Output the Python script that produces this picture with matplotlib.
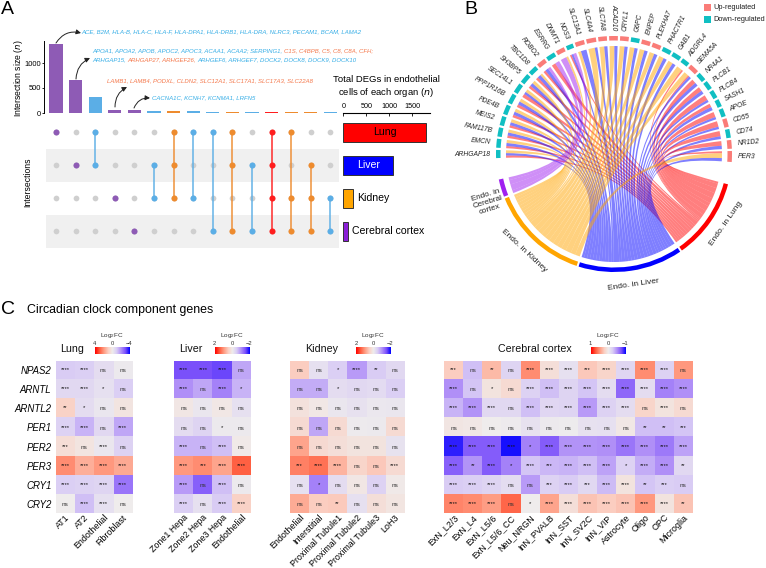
import numpy as np
import matplotlib
matplotlib.use("Agg")
import matplotlib.pyplot as plt
from matplotlib.colors import LinearSegmentedColormap
from matplotlib.patches import PathPatch, Rectangle, Wedge
from matplotlib.path import Path
from matplotlib.transforms import ScaledTranslation

plt.rcParams["font.family"] = ["Liberation Sans", "DejaVu Sans"]
plt.rcParams["mathtext.default"] = "regular"

W, H = 766, 568
PURPLE, BLUE, ORANGE, RED = "#8E5BB5", "#5BAEE6", "#EE8B2E", "#FF1E1E"

# ---- panel A data
intersection_sizes = [1380, 660, 330, 65, 65, 45, 40, 38, 25, 25, 22, 22, 20, 18, 15]
intersection_colors = [PURPLE, PURPLE, BLUE, PURPLE, PURPLE, BLUE, ORANGE, BLUE,
                       BLUE, ORANGE, BLUE, RED, ORANGE, ORANGE, BLUE]
intersection_sets = [[0], [1], [0, 1], [2], [3], [1, 2], [0, 1, 2], [0, 2],
                     [0, 3], [0, 1, 3], [1, 3], [0, 1, 2, 3], [0, 2, 3], [1, 2, 3], [2, 3]]
organs = ["Lung", "Liver", "Kidney", "Cerebral cortex"]
organ_totals = [1795, 1087, 200, 95]
organ_bar_colors = ["#FF0000", "#0000FF", "#FFA500", "#8B1FD8"]

GB, GO = "#35ADE6", "#F4774A"
gene_notes = [
    (81, 32, [("ACE, B2M, HLA-B, HLA-C, HLA-F, HLA-DPA1, HLA-DRB1, HLA-DRA, NLRC3, PECAM1, BCAM, LAMA2", GB)]),
    (92, 51, [("APOA1, APOA2, APOB, APOC2, APOC3, ACAA1, ACAA2; SERPING1, ", GB), ("C1S, C4BPB, C5, C8, C8A, CFH;", GO)]),
    (92, 60, [("ARHGAP15, ", GB), ("ARHGAP27, ARHGEF26, ", GO), ("ARHGEF6, ARHGEF7, DOCK2, DOCK8, DOCK9, DOCK10", GB)]),
    (107, 81, [("LAMB1, LAMB4, PODXL, CLDN2, SLC12A1, SLC17A1, SLC17A3, SLC22A8", GO)]),
    (152, 98, [("CACNA1C, KCNH7, KCNMA1, LRFN5", GB)]),
]
note_arrows = [((56, 43), (81, 33), -0.35), ((76, 79), (90, 58), -0.3),
               ((115, 107), (127, 87), -0.3), ((134, 108), (150, 98), -0.35)]

# ---- panel B data: ribbons run clockwise inside each gene
gene_names = ["ARHGAP18", "EMCN", "FAM117B", "MEIS2", "PDE4B", "PPP1R16B", "SEC14L1", "SH3BP5", "TBC1D8",
              "ROBO2", "ESRRG", "DNMT1", "NOS3", "SLC13A1", "SLC4A4", "SLC7A8", "ACAD10", "CRYL1", "G6PC",
              "ENPEP", "PLEKHA7", "PHACTR1", "GAB1", "ADGRL4", "SEMA5A", "NR4A1", "PLCB1", "PLCB4", "SASH1",
              "APOE", "CD55", "CD74", "NR1D2", "PER3"]
gene_up = [0, 0, 0, 0, 0, 0, 0, 0, 0, 1, 0, 1, 0, 1, 1, 1, 1, 1, 0, 1, 1, 0, 0, 0, 1, 0, 0, 0, 0, 0, 1, 0, 1, 1]
gene_links = [
    [("lung", 1.1), ("liver", 1.2), ("kidney", 1.4)], [("lung", 1.1), ("liver", 1.5), ("kidney", 1.5)],
    [("lung", 1.2), ("liver", 1.5), ("kidney", 1.5)], [("lung", 1.2), ("liver", 1.5), ("kidney", 1.6)],
    [("lung", 1.3), ("liver", 1.6), ("kidney", 1.6)], [("lung", 1.4), ("liver", 1.6), ("kidney", 1.6)],
    [("lung", 1.7), ("liver", 1.3), ("kidney", 1.5)], [("lung", 1.3), ("liver", 1.6), ("kidney", 1.6)],
    [("lung", 1.3), ("liver", 1.7), ("kidney", 1.1)], [("lung", 1.2), ("liver", 1.6), ("cortex", 1.4)],
    [("lung", 2.0), ("cortex", 2.2)], [("cortex", 3.0), ("kidney", 1.0)],
    [("lung", 0.8), ("liver", 1.0), ("cortex", 1.5)], [("kidney", 1.5), ("liver", 2.8)],
    [("kidney", 3.2), ("liver", 1.3)], [("kidney", 2.4), ("liver", 1.6)], [("kidney", 2.4), ("liver", 1.6)],
    [("kidney", 2.4), ("liver", 1.6)], [("kidney", 2.4), ("liver", 1.6)], [("kidney", 2.4), ("liver", 1.7)],
    [("kidney", 2.4), ("liver", 1.7)], [("kidney", 2.4), ("liver", 1.7)], [("kidney", 2.4), ("liver", 1.7)],
    [("kidney", 2.8), ("lung", 0.8)], [("kidney", 2.4), ("lung", 0.7), ("liver", 1.2)],
    [("lung", 2.2), ("liver", 1.7)], [("lung", 2.2), ("liver", 1.7)], [("lung", 2.6), ("liver", 1.2)],
    [("lung", 1.8), ("liver", 1.7)], [("lung", 2.6), ("liver", 1.2)], [("lung", 2.8), ("liver", 1.2)],
    [("lung", 2.6), ("liver", 1.4)], [("lung", 2.3), ("liver", 1.7)], [("lung", 1.0), ("kidney", 2.4), ("liver", 1.6)],
]
chord_organs = ["lung", "liver", "kidney", "cortex"]
chord_ring = {"lung": "#FF0000", "liver": "#0000FF", "kidney": "#FFA500", "cortex": "#A020F0"}
CX, CY, R_OUT, R_IN, R_RIB = 614, 154, 118, 113.5, 108

# ---- panel C data: Log2FC per cell
genes = ["NPAS2", "ARNTL", "ARNTL2", "PER1", "PER2", "PER3", "CRY1", "CRY2"]

lung_cells = ["AT1", "AT2", "Endothelial", "Fibroblast"]
lung_fc = [[-1.0, -0.9, -0.5, -0.1], [-0.6, -0.6, -0.4, -0.9], [0.9, -0.5, -0.2, 0.3], [-0.8, -1.4, -0.6, -1.6],
           [0.5, 0.3, -0.2, -0.8], [2.2, 1.6, 2.0, 1.7], [-0.9, -0.8, -0.7, -2.4], [0.0, -1.2, -0.4, 0.0]]
lung_sig = [["****", "****", "ns", "ns"], ["****", "****", "*", "ns"], ["**", "*", "ns", "ns"], ["****", "****", "ns", "****"],
            ["***", "ns", "****", "ns"], ["****", "****", "****", "****"], ["****", "****", "****", "****"], ["ns", "****", "****", "ns"]]

liver_cells = ["Zone1 Hepa", "Zone2 Hepa", "Zone3 Hepa", "Endothelial"]
liver_fc = [[-1.5, -1.5, -1.56, -0.8], [-1.0, -0.8, -1.1, -0.7], [0.1, -0.1, 0.08, -0.2], [-0.24, -0.36, -0.06, -0.06],
            [-0.7, -0.7, -0.6, 0.06], [1.0, 1.1, 0.9, 1.44], [-0.9, -1.36, -0.6, -0.06], [-0.44, -0.2, -0.5, 0.44]]
liver_sig = [["****", "****", "****", "ns"], ["****", "ns", "****", "*"], ["ns", "ns", "ns", "ns"], ["ns", "ns", "*", "ns"],
             ["****", "ns", "****", "ns"], ["****", "***", "****", "****"], ["****", "ns", "****", "ns"], ["****", "ns", "****", "****"]]

kidney_cells = ["Endothelial", "Interstitial", "Proximal Tubule1", "Proximal Tubule2", "Proximal Tubule3", "LoH3"]
kidney_fc = [[0.5, -0.2, -0.44, -0.9, -0.5, -0.3], [-0.76, -0.76, -0.24, -0.3, -0.26, -0.44],
             [0.2, 0.08, -0.1, -0.18, -0.08, -0.1], [0.3, -0.8, 0.3, -0.04, -0.06, 0.3],
             [0.9, 0.32, 0.24, 0.16, 0.16, -0.16], [1.2, 1.3, 0.76, 0.4, 0.56, 0.3],
             [-0.2, -1.1, -0.24, 0.1, -0.4, 0.06], [0.84, 0.5, 0.54, -0.2, 0.24, 0.14]]
kidney_sig = [["ns", "ns", "*", "****", "**", "ns"], ["ns", "ns", "*", "ns", "ns", "ns"], ["ns"] * 6, ["ns"] * 6, ["ns"] * 6,
              ["***", "****", "****", "ns", "ns", "****"], ["ns", "*", "ns", "ns", "ns", "ns"], ["ns", "ns", "**", "ns", "ns", "ns"]]

cortex_cells = ["ExN_L2/3", "ExN_L4", "ExN_L5/6", "ExN_L5/6_CC", "Neu_NRGN", "InN_PVALB", "InN_SST", "InN_SV2C",
                "InN_VIP", "Astrocyte", "Oligo", "OPC", "Microglia"]
cortex_fc = [[.25, -.3, .35, -.18, .55, .12, -.1, .28, .2, -.17, .55, -.2, .5],
             [-.5, -.28, .08, .15, -.2, -.3, -.18, -.28, -.12, -.65, -.12, -.55, -.5],
             [-.35, -.48, -.15, -.15, -.3, -.17, -.18, -.45, -.2, -.12, .2, .08, .15],
             [.06, .04, .0, -.02, -.09, -.03, -.01, -.09, -.1, .04, -.3, -.3, -.28],
             [-.9, -.7, -.7, -.95, -.55, -.7, -.48, -.48, -.5, -.6, -.5, -.58, -.42],
             [-.68, -.48, -.7, -.55, -.28, -.33, -.35, -.3, -.42, -.2, -.38, -.5, -.15],
             [-.25, -.22, -.18, -.12, -.45, -.2, -.25, -.15, -.32, .08, -.28, -.22, -.25],
             [.58, .55, .48, .7, .0, .45, .12, .3, .25, .3, .5, .08, .3]]
S4 = "****"
cortex_sig = [["***", "ns", "**", "ns", S4, S4, S4, "***", S4, S4, S4, S4, "ns"],
              [S4, "ns", "*", "ns", S4, S4, S4, S4, S4, S4, S4, S4, S4],
              [S4, S4, S4, "ns", S4, S4, S4, S4, S4, S4, "ns", S4, "ns"],
              ["ns"] * 10 + ["**", "**", "***"],
              [S4, S4, S4, S4, "*", S4, S4, S4, S4, S4, S4, S4, S4],
              [S4, "**", S4, "*", S4, "***", S4, S4, S4, "*", S4, S4, "**"],
              [S4, S4, S4, "ns", "ns", "***", S4, "***", S4, S4, "**", "***", "ns"],
              [S4, S4, S4, "ns", "*", S4, S4, S4, S4, S4, S4, S4, "**"]]

heat_cmap = LinearSegmentedColormap.from_list("fc", [
    (0.0, "#0000FF"), (0.125, "#7A50FB"), (0.25, "#B08FF8"), (0.375, "#D9CCF5"), (0.5, "#EFEDED"),
    (0.625, "#FBCFC2"), (0.75, "#FF9A80"), (0.875, "#FF5A3C"), (1.0, "#FF0000")])


def ax_px(x0, y0, x1, y1):
    return fig.add_axes([x0 / W, 1 - y1 / H, (x1 - x0) / W, (y1 - y0) / H])


fig = plt.figure(figsize=(W / 100, H / 100), dpi=100)
ov = fig.add_axes([0, 0, 1, 1], zorder=5)
ov.set_xlim(0, W)
ov.set_ylim(H, 0)
ov.axis("off")
renderer = fig.canvas.get_renderer()

ov.text(1, 9, "A", fontsize=14, va="center")
ov.text(464, 9, "B", fontsize=14, va="center")
ov.text(1, 309, "C", fontsize=14, va="center")

# ---- upset bars
xs = np.arange(len(intersection_sizes))
XLIM = ((46 - 56) / 19.6, (339 - 56) / 19.6)
ax = ax_px(46, 41, 339, 113)
ax.bar(xs, intersection_sizes, width=0.68, color=intersection_colors)
ax.set_xlim(*XLIM)
ax.set_ylim(0, 1440)
ax.set_xticks([])
ax.set_yticks([0, 500, 1000])
ax.tick_params(axis="y", labelsize=5.4, length=1.5, width=0.6, pad=0.8)
for s in ["top", "right", "bottom"]:
    ax.spines[s].set_visible(False)
ax.spines["left"].set_position(("outward", 1.5))
ax.spines["left"].set_linewidth(0.7)
ov.text(19, 78, "Intersection size ($\\mathit{n}$)", rotation=90, fontsize=6.2, ha="center", va="center")

mx = ax_px(46, 115.8, 339, 248)
mx.set_xlim(*XLIM)
mx.set_ylim(3.506, -0.5)
mx.axis("off")
for r in [1, 3]:
    mx.axhspan(r - 0.5, r + 0.5, color="#F0F0F0", lw=0)
for i, members in enumerate(intersection_sets):
    mx.scatter([i] * 4, range(4), s=17, color="#CFCFCF", lw=0, zorder=2)
    if len(members) > 1:
        mx.plot([i, i], [min(members), max(members)], color=intersection_colors[i], lw=1.3, alpha=0.8, zorder=3)
    mx.scatter([i] * len(members), members, s=19, color=intersection_colors[i], lw=0, zorder=4)
ov.text(28, 182, "Intersections", rotation=90, fontsize=6.2, ha="center", va="center")

sx = ax_px(343.3, 112.8, 430, 248)
sx.barh(range(4), organ_totals, height=0.56, color=organ_bar_colors, edgecolor="#333333", linewidth=0.7)
sx.set_xlim(0, 1880)
sx.set_ylim(3.506, -0.59)
sx.set_yticks([])
sx.xaxis.tick_top()
sx.set_xticks([0, 500, 1000, 1500])
sx.tick_params(axis="x", labelsize=5.2, length=2, width=0.6, direction="in", pad=2)
for s in ["left", "right", "bottom"]:
    sx.spines[s].set_visible(False)
sx.spines["top"].set_linewidth(0.8)
sx.text(organ_totals[0] / 2, 0, organs[0], fontsize=7.6, ha="center", va="center")
sx.text(organ_totals[1] / 2, 1, organs[1], fontsize=7.6, ha="center", va="center", color="white")
sx.text(organ_totals[2] + 90, 2, organs[2], fontsize=7.6, va="center")
sx.text(organ_totals[3] + 90, 3, organs[3], fontsize=7.6, va="center", clip_on=False)
ov.text(386, 87, "Total DEGs in endothelial\ncells of each organ ($\\mathit{n}$)", fontsize=6.8, ha="center", va="center", linespacing=1.2)

for x0, y0, parts in gene_notes:
    x = x0
    for txt, col in parts:
        t = ov.text(x, y0, txt, fontsize=4.35, style="italic", color=col, va="center")
        x += t.get_window_extent(renderer).width
for start, end, rad in note_arrows:
    ov.annotate("", xy=end, xytext=start,
                arrowprops=dict(arrowstyle="-|>", color="#222222", lw=0.7, mutation_scale=7,
                                connectionstyle=f"arc3,rad={rad}", shrinkA=0, shrinkB=0))


# ---- chord diagram, angles in degrees counter-clockwise
def pt(angle, radius):
    a = np.radians(angle)
    return CX + radius * np.cos(a), CY - radius * np.sin(a)


def ring(a0, a1, color):
    # y axis of the overlay is flipped, so mirror the angles for Wedge
    ov.add_patch(Wedge((CX, CY), R_OUT, -a0, -a1, width=R_OUT - R_IN, color=color, lw=0))


GENE_GAP, START, GAP_TOP, GAP_LOW, ORGAN_GAP = 1.1, 182.0, 11.0, 10.5, 1.0
R_CTRL = 0.3 * R_RIB  # ribbons leave the ring radially and stay wide for a while
link_total = sum(w for links in gene_links for _, w in links)
unit = (360 - GENE_GAP * (len(gene_names) - 1) - GAP_TOP - GAP_LOW - ORGAN_GAP * 3) / (2 * link_total)

ang = START
gene_ends = {o: [] for o in chord_organs}
for name, up, links in zip(gene_names, gene_up, gene_links):
    g0 = ang
    for organ, w in links:
        gene_ends[organ].append((ang, ang - w * unit))
        ang -= w * unit
    ring(g0, ang, "#FA7C78" if up else "#10BFC2")
    mid = (g0 + ang) / 2
    x, y = pt(mid, R_OUT + 6)
    if mid > 90:
        ov.text(x, y, name, rotation=mid - 180, rotation_mode="anchor", ha="right", va="center",
                fontsize=4.9, style="italic", color="#222222")
    else:
        ov.text(x, y, name, rotation=mid, rotation_mode="anchor", ha="left", va="center",
                fontsize=4.9, style="italic", color="#222222")
    ang -= GENE_GAP

ang = ang + GENE_GAP - GAP_TOP
organ_mid = {}
ribbons = []
for organ in chord_organs:
    o0 = ang
    for a0, a1 in reversed(gene_ends[organ]):
        ribbons.append((a0, a1, ang, ang - (a0 - a1), organ))
        ang -= a0 - a1
    ring(o0, ang, chord_ring[organ])
    organ_mid[organ] = (o0 + ang) / 2
    ang -= ORGAN_GAP

ribbons.sort(key=lambda r: -r[0])
for a0, a1, b0, b1, organ in ribbons:
    verts = [pt(t, R_RIB) for t in np.linspace(a0, a1, 6)]
    codes = [Path.MOVETO] + [Path.LINETO] * 5
    verts += [pt(a1, R_CTRL), pt(b0, R_CTRL), pt(b0, R_RIB)]
    codes += [Path.CURVE4] * 3
    verts += [pt(t, R_RIB) for t in np.linspace(b0, b1, 12)[1:]]
    codes += [Path.LINETO] * 11
    verts += [pt(b1, R_CTRL), pt(a0, R_CTRL), pt(a0, R_RIB)]
    codes += [Path.CURVE4] * 3
    ov.add_patch(PathPatch(Path(verts, codes), facecolor=chord_ring[organ], edgecolor="none", alpha=0.5, lw=0))

for organ, text, shift in zip(["lung", "liver", "kidney"], ["Endo. in Lung", "Endo. in Liver", "Endo. in Kidney"], [3, 0, 0]):
    mid = organ_mid[organ]
    x, y = pt(mid + shift, R_OUT + 14)
    ov.text(x, y, text, rotation=mid + 90, ha="center", va="center", rotation_mode="anchor", fontsize=6.0, color="#222222")
x, y = pt(organ_mid["cortex"] + 4, R_OUT + 17)
ov.text(x, y, "Endo. in\nCerebral\ncortex", rotation=organ_mid["cortex"] - 180, ha="center", va="center",
        rotation_mode="anchor", fontsize=5.8, color="#222222", linespacing=1.05)

ov.add_patch(Rectangle((704, 4), 7, 7, color="#FA7C78", lw=0))
ov.add_patch(Rectangle((704, 16), 7, 7, color="#10BFC2", lw=0))
ov.text(713, 7.5, "Up-regulated", fontsize=5.3, va="center", color="#222222")
ov.text(713, 19.5, "Down-regulated", fontsize=5.3, va="center", color="#222222")

# ---- heatmaps
ov.text(27, 309.5, "Circadian clock component genes", fontsize=8.9, va="center")


def heat(x0, x1, cells, fc, sig, vmax, title, title_x, bar_x, show_genes=False):
    hx = ax_px(x0, 360.7, x1, 513.3)
    data = np.array(fc, dtype=float)
    hx.imshow(data, cmap=heat_cmap, vmin=-vmax, vmax=vmax, aspect="auto", interpolation="nearest")
    for r, row in enumerate(sig):
        for c, s in enumerate(row):
            if s == "ns":
                hx.text(c, r + 0.03, s, fontsize=4.6, ha="center", va="center", color="#333333")
            else:
                hx.text(c, r - 0.02, s, fontsize=4.2, ha="center", va="center", color="#111111")
    hx.set_xticks(np.arange(len(cells)))
    hx.set_xticklabels(cells, rotation=45, ha="right", va="center", rotation_mode="anchor", fontsize=6.4)
    hx.tick_params(axis="x", length=0, pad=2)
    hx.tick_params(axis="y", length=0, pad=3)
    # labels end a little right of the column centre
    nudge = ScaledTranslation(3 / 100, 0, fig.dpi_scale_trans)
    for lbl in hx.get_xticklabels():
        lbl.set_transform(lbl.get_transform() + nudge)
    if show_genes:
        hx.set_yticks(np.arange(len(genes)))
        hx.set_yticklabels(genes, fontsize=6.9, style="italic")
    else:
        hx.set_yticks([])
    for s in hx.spines.values():
        s.set_visible(False)

    bx = ax_px(bar_x, 346.7, bar_x + 34.4, 353.7)
    grad = np.linspace(vmax, -vmax, 200).reshape(1, -1)
    bx.imshow(grad, cmap=heat_cmap, vmin=-vmax, vmax=vmax, aspect="auto", extent=[vmax, -vmax, 0, 1])
    bx.set_yticks([])
    bx.xaxis.tick_top()
    bx.set_xticks([vmax, 0, -vmax])
    bx.set_xticklabels([str(vmax), "0", "\u2212" + str(vmax)], fontsize=4.2)
    bx.tick_params(axis="x", length=0, pad=0.6, colors="#333333")
    for s in bx.spines.values():
        s.set_visible(False)
    ov.text(bar_x + 17, 335, "Log$_2$FC", fontsize=4.6, ha="center", va="center", color="#333333")
    ov.text(title_x, 349, title, fontsize=7.7, ha="center", va="center", color="#111111")


heat(55.7, 132, lung_cells, lung_fc, lung_sig, 4, "Lung", 72, 94.7, True)
heat(174.3, 251, liver_cells, liver_fc, liver_sig, 2, "Liver", 190.7, 214.7)
heat(290, 404.3, kidney_cells, kidney_fc, kidney_sig, 2, "Kidney", 321.7, 356)
heat(444, 692.7, cortex_cells, cortex_fc, cortex_sig, 1, "Cerebral cortex", 534.7, 590.7)

fig.savefig("out.png", dpi=100)
